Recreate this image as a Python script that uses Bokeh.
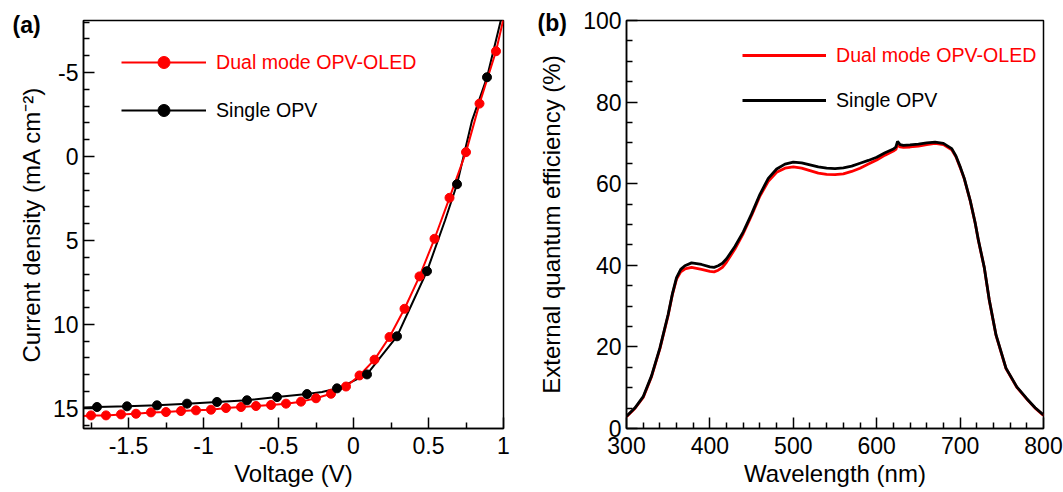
from bokeh.plotting import figure
from bokeh.models import (Range1d, FixedTicker, CustomJSTickFormatter, Legend,
                          LegendItem, Title)
from bokeh.core.properties import value
from bokeh.layouts import row
from bokeh.embed import file_html
from bokeh.resources import INLINE

FONT = "Liberation Sans"
RED = "#ff0000"

# ---------------- Panel (a): J-V curves ----------------
voltage_dual = [-1.75, -1.65, -1.55, -1.45, -1.35, -1.25, -1.15, -1.05, -0.95,
                -0.85, -0.75, -0.65, -0.55, -0.45, -0.35, -0.25, -0.15, -0.05,
                0.04, 0.14, 0.24, 0.34, 0.44, 0.54, 0.64, 0.75, 0.84, 0.95]
current_dual = [15.42, 15.42, 15.36, 15.32, 15.24, 15.22, 15.16, 15.12, 15.08,
                14.98, 14.92, 14.86, 14.80, 14.72, 14.60, 14.40, 14.13, 13.70,
                13.04, 12.10, 10.75, 9.07, 7.14, 4.90, 2.46, -0.26, -3.15, -6.27]
voltage_dual_line = [-1.80] + voltage_dual + [1.01]
current_dual_line = [15.45] + current_dual + [-8.6]

voltage_single = [-1.71, -1.51, -1.31, -1.11, -0.91, -0.71, -0.51, -0.31,
                  -0.11, 0.09, 0.29, 0.49, 0.69, 0.89]
current_single = [14.92, 14.88, 14.82, 14.72, 14.62, 14.52, 14.33, 14.15,
                  13.81, 12.98, 10.71, 6.83, 1.65, -4.72]
voltage_single_line = [-1.80, -1.71, -1.51, -1.31, -1.11, -0.91, -0.71, -0.51,
                       -0.31, -0.21, -0.11, -0.02, 0.09, 0.18, 0.29, 0.39, 0.49,
                       0.61, 0.69, 0.79, 0.89, 0.99, 1.01]
current_single_line = [14.95, 14.92, 14.88, 14.82, 14.72, 14.62, 14.52, 14.33,
                       14.15, 14.03, 13.81, 13.45, 12.98, 11.95, 10.71, 8.77,
                       6.83, 3.81, 1.65, -2.14, -4.72, -8.4, -9.1]

x_ticks_a = [-1.5, -1, -0.5, 0, 0.5, 1]
x_minor_a = [-1.75, -1.25, -0.75, -0.25, 0.25, 0.75]
y_ticks_a = [-5, 0, 5, 10, 15]
y_minor_a = [v for v in range(-8, 17) if v % 5 != 0]

# ---------------- Panel (b): EQE spectra ----------------
wavelength = [300, 310, 320, 330, 340, 350, 355, 360, 365, 370, 378, 390, 400,
              405, 410, 415, 420, 430, 440, 450, 460, 470, 480, 490, 500, 510,
              520, 530, 540, 550, 560, 570, 580, 590, 600, 610, 620, 623, 625,
              628, 632, 640, 650, 660, 670, 680, 690, 695, 700, 705, 712, 718,
              722, 729, 735, 743, 755, 768, 780, 790, 800]
eqe_single = [3.0, 5.0, 7.8, 12.9, 19.7, 28.0, 33.0, 37.0, 39.0, 39.9, 40.6,
              40.2, 39.6, 39.5, 39.9, 40.5, 41.6, 44.6, 48.2, 52.6, 57.4, 61.3,
              63.6, 64.8, 65.3, 65.1, 64.6, 64.1, 63.8, 63.7, 63.9, 64.3, 65.0,
              65.7, 66.5, 67.6, 68.5, 69.0, 70.4, 69.6, 69.4, 69.5, 69.7, 70.0,
              70.2, 69.9, 68.6, 66.8, 64.2, 61.3, 56.0, 50.5, 46.1, 39.5, 31.5,
              23.0, 14.8, 10.2, 7.3, 5.1, 3.3]
eqe_dual = [2.9, 4.9, 7.6, 12.7, 19.5, 27.8, 32.8, 36.6, 38.4, 39.1, 39.5,
            39.0, 38.5, 38.4, 38.8, 39.5, 40.8, 44.0, 47.8, 52.2, 57.0, 60.6,
            62.8, 63.8, 64.1, 63.8, 63.2, 62.6, 62.3, 62.2, 62.4, 63.0, 63.8,
            64.8, 65.8, 67.0, 68.0, 68.4, 69.6, 69.0, 68.9, 69.0, 69.2, 69.6,
            69.9, 69.6, 68.3, 66.6, 64.0, 61.2, 55.9, 50.4, 46.0, 39.4, 31.4,
            22.9, 14.7, 10.1, 7.2, 5.0, 3.2]

x_ticks_b = [300, 400, 500, 600, 700, 800]
x_minor_b = [v for v in range(300, 801, 20) if v % 100 != 0]
y_ticks_b = [0, 20, 40, 60, 80, 100]
y_minor_b = [v for v in range(0, 101, 5) if v % 20 != 0]

label_dual = "Dual mode OPV-OLED"
label_single = "Single OPV"


def style_axes(p, xt, xm, yt, ym, xlabel, ylabel, ylabel_standoff):
    p.xgrid.visible = False
    p.ygrid.visible = False
    p.outline_line_color = "black"
    p.outline_line_width = 1.5
    p.outline_line_alpha = 1.0
    p.background_fill_color = "white"
    p.border_fill_color = "white"
    p.xaxis.ticker = FixedTicker(ticks=xt, minor_ticks=xm)
    p.yaxis.ticker = FixedTicker(ticks=yt, minor_ticks=ym)
    p.xaxis.formatter = CustomJSTickFormatter(code="return tick.toString();")
    p.yaxis.formatter = CustomJSTickFormatter(code="return tick.toString();")
    for ax in (p.xaxis[0], p.yaxis[0]):
        ax.axis_line_color = "black"
        ax.axis_line_width = 1.5
        ax.major_tick_in = 11
        ax.major_tick_out = 0
        ax.minor_tick_in = 6
        ax.minor_tick_out = 0
        ax.major_tick_line_color = "black"
        ax.minor_tick_line_color = "black"
        ax.major_tick_line_width = 1.5
        ax.minor_tick_line_width = 1.5
        ax.major_label_text_font = FONT
        ax.major_label_text_font_size = "23px"
        ax.major_label_text_color = "black"
        ax.axis_label_text_font = FONT
        ax.axis_label_text_font_size = "24px"
        ax.axis_label_text_font_style = "normal"
        ax.axis_label_text_color = "black"
    p.xaxis.axis_label = xlabel
    p.yaxis.axis_label = ylabel
    p.xaxis.major_label_standoff = 8
    p.xaxis.axis_label_standoff = 3
    p.yaxis.major_label_standoff = 5
    p.yaxis.axis_label_standoff = ylabel_standoff


def add_legend(p, renderers, text, color, loc, glyph_w):
    leg = Legend(items=[LegendItem(label=value(text), renderers=renderers)])
    leg.location = loc
    leg.orientation = "vertical"
    leg.glyph_width = glyph_w
    leg.glyph_height = 30
    leg.label_height = 30
    leg.label_standoff = 10
    leg.padding = 0
    leg.margin = 0
    leg.spacing = 0
    leg.border_line_alpha = 0
    leg.background_fill_alpha = 0
    leg.label_text_font = FONT
    leg.label_text_font_size = "19.6px"
    leg.label_text_color = color
    p.add_layout(leg)


def panel_tag(text, offset, standoff):
    # panel letter placed in the top border, shifted left of the frame
    return Title(text=text, align="left", offset=offset, standoff=standoff,
                 vertical_align="bottom", text_font=FONT,
                 text_font_size="23px", text_font_style="bold",
                 text_color="black")


# ---------------- Figure (a) ----------------
p1 = figure(width=535, height=492, output_backend="svg", toolbar_location=None,
            tools="", x_range=Range1d(-1.8, 1.0), y_range=Range1d(16.2, -8.1),
            min_border_left=83, min_border_right=32, min_border_top=20,
            min_border_bottom=64, title=panel_tag("(a)", -71, -34))
style_axes(p1, x_ticks_a, x_minor_a, y_ticks_a, y_minor_a,
           "Voltage (V)", "Current density (mA cm\u207b\u00b2)", 5)

l_single = p1.line(voltage_single_line, current_single_line, line_color="black",
                   line_width=2)
l_dual = p1.line(voltage_dual_line, current_dual_line, line_color=RED,
                 line_width=2)
s_dual = p1.scatter(voltage_dual, current_dual, marker="circle", size=9,
                    fill_color=RED, line_color=RED)
s_single = p1.scatter(voltage_single, current_single, marker="circle", size=9,
                      fill_color="black", line_color="black")

add_legend(p1, [l_dual, s_dual], label_dual, RED, (38, 351), 85)
add_legend(p1, [l_single, s_single], label_single, "black", (38, 303), 85)

# ---------------- Figure (b) ----------------
p2 = figure(width=528, height=492, output_backend="svg", toolbar_location=None,
            tools="", x_range=Range1d(300, 800), y_range=Range1d(0, 100),
            min_border_left=89, min_border_right=20, min_border_top=20,
            min_border_bottom=64, title=panel_tag("(b)", -89, -30))
style_axes(p2, x_ticks_b, x_minor_b, y_ticks_b, y_minor_b,
           "Wavelength (nm)", "External quantum efficiency (%)", 15)

e_dual = p2.line(wavelength, eqe_dual, line_color=RED, line_width=2.8)
e_single = p2.line(wavelength, eqe_single, line_color="black", line_width=2.8)

add_legend(p2, [e_dual], label_dual, RED, (116, 358), 84)
add_legend(p2, [e_single], label_single, "black", (116, 313), 84)

layout = row(p1, p2)
open("out.html", "w").write(file_html(layout, INLINE))
